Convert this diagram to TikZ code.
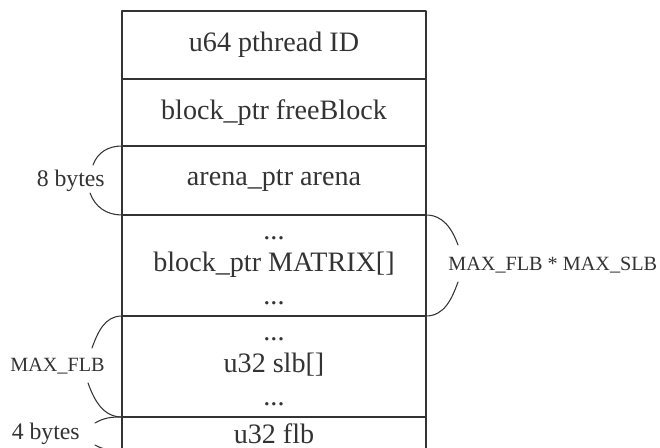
\documentclass[tikz,border=0pt]{standalone}
\usepackage{fontspec}
\setmainfont{Liberation Serif}
\usepackage{xcolor}
\usepackage{tikz}
\usetikzlibrary{positioning,calc}
\definecolor{ink}{HTML}{333333}
\tikzset{
    every picture/.style={line cap=round,line join=round},
    rowcell/.style={draw=ink,line width=0.7pt,minimum width=6.08cm,
      minimum height=1.36cm,inner sep=0pt,outer sep=0pt,
      text=ink,font=\fontsize{16}{18.5}\selectfont,align=center},
    tallrow/.style={rowcell,minimum height=2.02cm},
    sizelabel/.style={text=ink,font=\fontsize{11.5}{14}\selectfont,inner sep=0pt},
    bytelabel/.style={sizelabel,font=\fontsize{13.5}{16}\selectfont},
    bracearc/.style={draw=ink,line width=0.6pt}
}

\begin{document}
\begin{tikzpicture}
  \useasboundingbox (0,0) rectangle (13.2,8.96);
  \clip (0,0) rectangle (13.2,8.96);

  % the struct, one row per field
  \node[rowcell,anchor=north west] (pid) at (2.44,8.74) {u64 pthread ID};
  \node[rowcell,below=0mm of pid,minimum height=1.34cm] (free) {block\_ptr freeBlock};
  \node[rowcell,below=0mm of free,minimum height=1.38cm] (arena) {arena\_ptr arena};
  \node[tallrow,below=0mm of arena] (matrix) {\strut...\\ block\_ptr MATRIX[]\\ ...\strut};
  \node[tallrow,below=0mm of matrix] (slb) {\strut...\\ u32 slb[]\\ ...\strut};
  \node[rowcell,below=0mm of slb,minimum height=0.66cm] (flb) {u32 flb};

  % size labels
  \node[bytelabel,left=3.4mm of arena.west] (lab8) {8 bytes};
  \node[sizelabel,right=4.4mm of matrix.east] (labmx) {MAX\_FLB * MAX\_SLB};
  \node[sizelabel,left=3.4mm of slb.west] (labflb) {MAX\_FLB};
  \node[bytelabel,left=8.4mm of flb.west] (lab4) {4 bytes};

  % round brackets around the labels
  \coordinate (a8top) at ($(arena.north west)+(-0.58,-0.38)$);
  \coordinate (a8bot) at ($(arena.south west)+(-0.64,0.44)$);
  \draw[bracearc] (arena.north west) to[out=180,in=70] (a8top);
  \draw[bracearc] (a8bot) to[out=-70,in=180] (arena.south west);

  \coordinate (mxtop) at ($(matrix.north east)+(0.64,-0.60)$);
  \coordinate (mxbot) at ($(matrix.south east)+(0.64,0.68)$);
  \draw[bracearc] (matrix.north east) to[out=0,in=110] (mxtop);
  \draw[bracearc] (mxbot) to[out=-110,in=0] (matrix.south east);

  \coordinate (sltop) at ($(slb.north west)+(-0.60,-0.64)$);
  \coordinate (slbot) at ($(slb.south west)+(-0.68,0.68)$);
  \draw[bracearc] (slb.north west) to[out=180,in=70] (sltop);
  \draw[bracearc] (slbot) to[out=-70,in=180] (slb.south west);

  \coordinate (fltop) at ($(flb.north west)+(-0.54,-0.12)$);
  \coordinate (flbot) at ($(flb.south west)+(-0.54,0.10)$);
  \draw[bracearc] (flb.north west) to[out=180,in=30] (fltop);
  \draw[bracearc] (flbot) to[out=-30,in=180] (flb.south west);
\end{tikzpicture}
\end{document}
